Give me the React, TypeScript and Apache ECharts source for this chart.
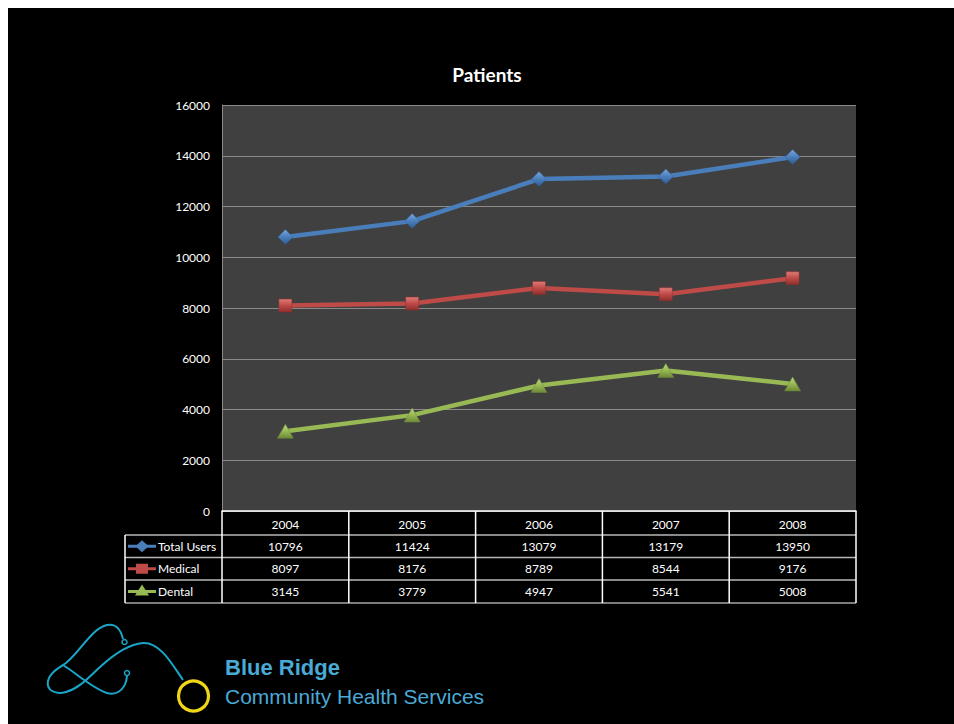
import React, { useEffect, useRef } from "react";
import * as echarts from "echarts";

const years = ["2004", "2005", "2006", "2007", "2008"];
const seriesNames = ["Total Users", "Medical", "Dental"];
const totalUsers = [10796, 11424, 13079, 13179, 13950];
const medical = [8097, 8176, 8789, 8544, 9176];
const dental = [3145, 3779, 4947, 5541, 5008];
const yTicks = { min: 0, max: 16000, interval: 2000 };
const titleText = "Patients";
const logoLine1 = "Blue Ridge";
const logoLine2 = "Community Health Services";

const colors = ["#4a7ebb", "#be4b48", "#98b954"];
const darkColors = ["#2f5b91", "#8e2f2c", "#6d8a37"];
const lightColors = ["#7aa6dc", "#e07a77", "#bcd886"];
const symbols = ["diamond", "rect", "triangle"];
const symbolSizes: any[] = [[15, 15], [13, 13], [16, 14]];

const OX = 8;
const OY = 8;
const W = 946;
const H = 716;
const GRID = { left: 222 - OX, top: 105 - OY, width: 634, height: 406 };
const FONT = "Lato, 'Open Sans', sans-serif";

function grad(i: number) {
  return new echarts.graphic.LinearGradient(0, 0, 0, 1, [
    { offset: 0, color: lightColors[i] },
    { offset: 0.5, color: colors[i] },
    { offset: 1, color: darkColors[i] },
  ]);
}

const LOGO_D =
  "M183,680 C172,664 160,642 143,643 C128,644 112,656 100,667 C90,676 80,688 66,692 C55,695 46,690 48,681 C50,672 60,667 66,663 C80,652 92,628 107,625 C116,623 121,630 123,639 " +
  "M63,665 C76,673 92,688 107,693 C118,696 126,688 127,676";

export default function App() {
  const ref = useRef<HTMLDivElement>(null);
  useEffect(() => {
    if (!ref.current) return;
    try {
      echarts.graphic.registerShape("logo", echarts.graphic.extendPath(LOGO_D, {}) as any);
    } catch (e) {}
    const chart = echarts.init(ref.current, null, { renderer: "svg" });
    const data = [totalUsers, medical, dental];
    chart.setOption({
      animation: false,
      backgroundColor: "#000000",
      grid: {
        left: GRID.left,
        top: GRID.top,
        width: GRID.width,
        height: GRID.height,
        show: true,
        backgroundColor: "#404040",
        borderWidth: 0,
      },
      xAxis: {
        type: "category",
        data: years,
        boundaryGap: true,
        axisLine: { show: true, lineStyle: { color: "#ffffff", width: 1.5 } },
        axisTick: { show: false },
        axisLabel: { color: "#ffffff", fontSize: 12, fontFamily: FONT, margin: 7 },
        splitLine: { show: false },
      },
      yAxis: {
        type: "value",
        min: yTicks.min,
        max: yTicks.max,
        interval: yTicks.interval,
        axisLine: { show: true, lineStyle: { color: "#8a8a8a", width: 1 } },
        axisTick: { show: false },
        axisLabel: {
          color: "#ffffff",
          fontSize: 12,
          fontFamily: FONT,
          margin: 12,
          formatter: (v: number) => String(v),
        },
        splitLine: { show: true, lineStyle: { color: "#8a8a8a", width: 1 } },
      },
      series: data.map((d, i) => ({
        name: seriesNames[i],
        type: "line",
        data: d,
        symbol: symbols[i],
        symbolSize: symbolSizes[i],
        showAllSymbol: true,
        lineStyle: { color: colors[i], width: 4.5 },
        itemStyle: { color: grad(i), borderColor: darkColors[i], borderWidth: 0.5 },
        z: 3 + i,
      })),
    });

    // Build table + decorations
    const g: any[] = [];
    const left = 222 - OX;
    const right = 856 - OX;
    const rowY = [511, 535, 557.5, 580, 603].map((v) => v - OY);
    const legLeft = 125 - OX;
    const colW = (right - left) / years.length;
    const centers = years.map((_, i) => {
      const p = chart.convertToPixel({ xAxisIndex: 0 }, i) as any;
      return typeof p === "number" ? p : left + colW * (i + 0.5);
    });
    for (let r = 1; r < rowY.length; r++) {
      g.push({
        type: "line",
        shape: { x1: legLeft, y1: rowY[r], x2: right, y2: rowY[r] },
        style: { stroke: r === rowY.length - 1 ? "#a6a6a6" : "#b8b8b8", lineWidth: 1.5 },
        z: 10,
      });
    }
    for (let c = 0; c <= years.length; c++) {
      const x = left + colW * c;
      g.push({
        type: "line",
        shape: { x1: x, y1: rowY[0], x2: x, y2: rowY[4] },
        style: { stroke: "#ffffff", lineWidth: 1.5 },
        z: 10,
      });
    }
    g.push({
      type: "line",
      shape: { x1: legLeft, y1: rowY[1], x2: legLeft, y2: rowY[4] },
      style: { stroke: "#ffffff", lineWidth: 1.5 },
      z: 10,
    });
    data.forEach((d, i) => {
      const cy = (rowY[i + 1] + rowY[i + 2]) / 2;
      g.push({
        type: "line",
        shape: { x1: 128 - OX, y1: cy, x2: 156 - OX, y2: cy },
        style: { stroke: colors[i], lineWidth: 3 },
        z: 11,
      });
      const mx = 142 - OX;
      if (i === 0) {
        g.push({
          type: "polygon",
          shape: { points: [[mx, cy - 6], [mx + 6.5, cy], [mx, cy + 6], [mx - 6.5, cy]] },
          style: { fill: colors[i] },
          z: 12,
        });
      } else if (i === 1) {
        g.push({
          type: "rect",
          shape: { x: mx - 6, y: cy - 5, width: 12, height: 10 },
          style: { fill: colors[i] },
          z: 12,
        });
      } else {
        g.push({
          type: "polygon",
          shape: { points: [[mx, cy - 7], [mx + 7, cy + 4], [mx - 7, cy + 4]] },
          style: { fill: colors[i] },
          z: 12,
        });
      }
      g.push({
        type: "text",
        x: 158 - OX,
        y: cy,
        style: {
          text: seriesNames[i],
          fill: "#ffffff",
          font: "12px " + FONT,
          textAlign: "left",
          textVerticalAlign: "middle",
        },
        z: 12,
      });
      d.forEach((v, j) => {
        g.push({
          type: "text",
          x: centers[j],
          y: cy,
          style: {
            text: String(v),
            fill: "#ffffff",
            font: "12px " + FONT,
            textAlign: "center",
            textVerticalAlign: "middle",
          },
          z: 12,
        });
      });
    });
    g.push({
      type: "text",
      x: 487 - OX,
      y: 74 - OY,
      style: {
        text: titleText,
        fill: "#ffffff",
        font: "bold 19px " + FONT,
        textAlign: "center",
        textVerticalAlign: "middle",
      },
      z: 12,
    });
    g.push({
      type: "logo",
      x: -OX,
      y: -OY,
      style: { fill: null, stroke: "#1aa6c8", lineWidth: 2 },
      z: 12,
    });
    g.push({
      type: "circle",
      shape: { cx: 124.5 - OX, cy: 642 - OY, r: 2.5 },
      style: { fill: "none", stroke: "#1aa6c8", lineWidth: 1.5 },
      z: 12,
    });
    g.push({
      type: "circle",
      shape: { cx: 127 - OX, cy: 673 - OY, r: 2.5 },
      style: { fill: "none", stroke: "#1aa6c8", lineWidth: 1.5 },
      z: 12,
    });
    g.push({
      type: "circle",
      shape: { cx: 193.5 - OX, cy: 696 - OY, r: 15 },
      style: { fill: "none", stroke: "#f0d616", lineWidth: 3.2 },
      z: 12,
    });
    g.push({
      type: "text",
      x: 225 - OX,
      y: 678 - OY,
      style: {
        text: logoLine1,
        fill: "#4aaad6",
        font: "bold 22px 'Liberation Sans', Arial, sans-serif",
        textAlign: "left",
        textVerticalAlign: "bottom",
      },
      z: 12,
    });
    g.push({
      type: "text",
      x: 225 - OX,
      y: 707 - OY,
      style: {
        text: logoLine2,
        fill: "#4aaad6",
        font: "21px 'Liberation Sans', Arial, sans-serif",
        textAlign: "left",
        textVerticalAlign: "bottom",
      },
      z: 12,
    });
    chart.setOption({ graphic: g });
    return () => chart.dispose();
  }, []);
  return (
    <div
      ref={ref}
      style={{ position: "fixed", left: OX, top: OY, width: W, height: H }}
    />
  );
}
